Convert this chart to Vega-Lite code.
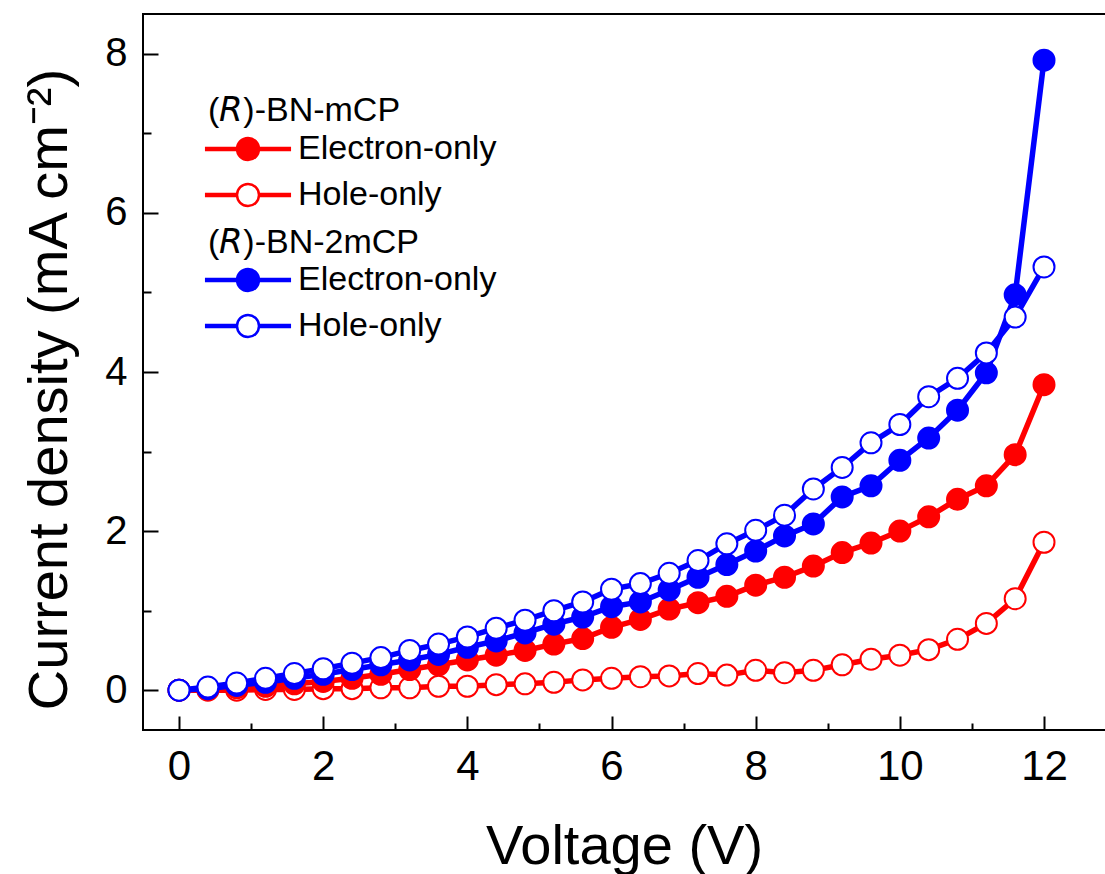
{
  "$schema": "https://vega.github.io/schema/vega-lite/v6.json",
  "width": 963,
  "height": 716,
  "autosize": {"type": "none"},
  "padding": {"left": 143, "top": 14, "right": 0, "bottom": 144},
  "background": "white",
  "config": {
    "view": {"stroke": "black", "strokeWidth": 2},
    "font": "Liberation Sans",
    "axis": {"domain": false, "tickColor": "black", "tickWidth": 2, "labelColor": "black", "titleColor": "black", "labelFont": "Liberation Sans", "titleFont": "Liberation Sans", "titleFontWeight": "normal", "grid": false},
    "legend": {"titleFont": "Liberation Sans", "labelFont": "Liberation Sans", "titleFontWeight": "normal", "titleColor": "black", "labelColor": "black"}
  },
  "data": {"values": [
    {"sample":"mCP","type":"Hole-only","voltage":0,"current":0},
    {"sample":"mCP","type":"Hole-only","voltage":0.4,"current":0},
    {"sample":"mCP","type":"Hole-only","voltage":0.8,"current":0},
    {"sample":"mCP","type":"Hole-only","voltage":1.2,"current":0.01},
    {"sample":"mCP","type":"Hole-only","voltage":1.6,"current":0.01},
    {"sample":"mCP","type":"Hole-only","voltage":2.0,"current":0.02},
    {"sample":"mCP","type":"Hole-only","voltage":2.4,"current":0.02},
    {"sample":"mCP","type":"Hole-only","voltage":2.8,"current":0.03},
    {"sample":"mCP","type":"Hole-only","voltage":3.2,"current":0.03},
    {"sample":"mCP","type":"Hole-only","voltage":3.6,"current":0.05},
    {"sample":"mCP","type":"Hole-only","voltage":4.0,"current":0.05},
    {"sample":"mCP","type":"Hole-only","voltage":4.4,"current":0.07},
    {"sample":"mCP","type":"Hole-only","voltage":4.8,"current":0.08},
    {"sample":"mCP","type":"Hole-only","voltage":5.2,"current":0.1},
    {"sample":"mCP","type":"Hole-only","voltage":5.6,"current":0.13},
    {"sample":"mCP","type":"Hole-only","voltage":6.0,"current":0.15},
    {"sample":"mCP","type":"Hole-only","voltage":6.4,"current":0.17},
    {"sample":"mCP","type":"Hole-only","voltage":6.8,"current":0.18},
    {"sample":"mCP","type":"Hole-only","voltage":7.2,"current":0.21},
    {"sample":"mCP","type":"Hole-only","voltage":7.6,"current":0.19},
    {"sample":"mCP","type":"Hole-only","voltage":8.0,"current":0.25},
    {"sample":"mCP","type":"Hole-only","voltage":8.4,"current":0.22},
    {"sample":"mCP","type":"Hole-only","voltage":8.8,"current":0.25},
    {"sample":"mCP","type":"Hole-only","voltage":9.2,"current":0.32},
    {"sample":"mCP","type":"Hole-only","voltage":9.6,"current":0.39},
    {"sample":"mCP","type":"Hole-only","voltage":10.0,"current":0.44},
    {"sample":"mCP","type":"Hole-only","voltage":10.4,"current":0.51},
    {"sample":"mCP","type":"Hole-only","voltage":10.8,"current":0.64},
    {"sample":"mCP","type":"Hole-only","voltage":11.2,"current":0.84},
    {"sample":"mCP","type":"Hole-only","voltage":11.6,"current":1.15},
    {"sample":"mCP","type":"Hole-only","voltage":12.0,"current":1.86},
    {"sample":"mCP","type":"Electron-only","voltage":0,"current":0},
    {"sample":"mCP","type":"Electron-only","voltage":0.4,"current":0.01},
    {"sample":"mCP","type":"Electron-only","voltage":0.8,"current":0.03},
    {"sample":"mCP","type":"Electron-only","voltage":1.2,"current":0.05},
    {"sample":"mCP","type":"Electron-only","voltage":1.6,"current":0.08},
    {"sample":"mCP","type":"Electron-only","voltage":2.0,"current":0.11},
    {"sample":"mCP","type":"Electron-only","voltage":2.4,"current":0.15},
    {"sample":"mCP","type":"Electron-only","voltage":2.8,"current":0.2},
    {"sample":"mCP","type":"Electron-only","voltage":3.2,"current":0.26},
    {"sample":"mCP","type":"Electron-only","voltage":3.6,"current":0.32},
    {"sample":"mCP","type":"Electron-only","voltage":4.0,"current":0.38},
    {"sample":"mCP","type":"Electron-only","voltage":4.4,"current":0.44},
    {"sample":"mCP","type":"Electron-only","voltage":4.8,"current":0.5},
    {"sample":"mCP","type":"Electron-only","voltage":5.2,"current":0.58},
    {"sample":"mCP","type":"Electron-only","voltage":5.6,"current":0.65},
    {"sample":"mCP","type":"Electron-only","voltage":6.0,"current":0.79},
    {"sample":"mCP","type":"Electron-only","voltage":6.4,"current":0.89},
    {"sample":"mCP","type":"Electron-only","voltage":6.8,"current":1.02},
    {"sample":"mCP","type":"Electron-only","voltage":7.2,"current":1.1},
    {"sample":"mCP","type":"Electron-only","voltage":7.6,"current":1.18},
    {"sample":"mCP","type":"Electron-only","voltage":8.0,"current":1.32},
    {"sample":"mCP","type":"Electron-only","voltage":8.4,"current":1.42},
    {"sample":"mCP","type":"Electron-only","voltage":8.8,"current":1.56},
    {"sample":"mCP","type":"Electron-only","voltage":9.2,"current":1.73},
    {"sample":"mCP","type":"Electron-only","voltage":9.6,"current":1.85},
    {"sample":"mCP","type":"Electron-only","voltage":10.0,"current":2.0},
    {"sample":"mCP","type":"Electron-only","voltage":10.4,"current":2.18},
    {"sample":"mCP","type":"Electron-only","voltage":10.8,"current":2.4},
    {"sample":"mCP","type":"Electron-only","voltage":11.2,"current":2.57},
    {"sample":"mCP","type":"Electron-only","voltage":11.6,"current":2.96},
    {"sample":"mCP","type":"Electron-only","voltage":12.0,"current":3.84},
    {"sample":"2mCP","type":"Electron-only","voltage":0,"current":0},
    {"sample":"2mCP","type":"Electron-only","voltage":0.4,"current":0.02},
    {"sample":"2mCP","type":"Electron-only","voltage":0.8,"current":0.06},
    {"sample":"2mCP","type":"Electron-only","voltage":1.2,"current":0.1},
    {"sample":"2mCP","type":"Electron-only","voltage":1.6,"current":0.15},
    {"sample":"2mCP","type":"Electron-only","voltage":2.0,"current":0.2},
    {"sample":"2mCP","type":"Electron-only","voltage":2.4,"current":0.26},
    {"sample":"2mCP","type":"Electron-only","voltage":2.8,"current":0.32},
    {"sample":"2mCP","type":"Electron-only","voltage":3.2,"current":0.38},
    {"sample":"2mCP","type":"Electron-only","voltage":3.6,"current":0.45},
    {"sample":"2mCP","type":"Electron-only","voltage":4.0,"current":0.54},
    {"sample":"2mCP","type":"Electron-only","voltage":4.4,"current":0.62},
    {"sample":"2mCP","type":"Electron-only","voltage":4.8,"current":0.72},
    {"sample":"2mCP","type":"Electron-only","voltage":5.2,"current":0.83},
    {"sample":"2mCP","type":"Electron-only","voltage":5.6,"current":0.92},
    {"sample":"2mCP","type":"Electron-only","voltage":6.0,"current":1.05},
    {"sample":"2mCP","type":"Electron-only","voltage":6.4,"current":1.11},
    {"sample":"2mCP","type":"Electron-only","voltage":6.8,"current":1.26},
    {"sample":"2mCP","type":"Electron-only","voltage":7.2,"current":1.42},
    {"sample":"2mCP","type":"Electron-only","voltage":7.6,"current":1.58},
    {"sample":"2mCP","type":"Electron-only","voltage":8.0,"current":1.75},
    {"sample":"2mCP","type":"Electron-only","voltage":8.4,"current":1.94},
    {"sample":"2mCP","type":"Electron-only","voltage":8.8,"current":2.09},
    {"sample":"2mCP","type":"Electron-only","voltage":9.2,"current":2.43},
    {"sample":"2mCP","type":"Electron-only","voltage":9.6,"current":2.57},
    {"sample":"2mCP","type":"Electron-only","voltage":10.0,"current":2.89},
    {"sample":"2mCP","type":"Electron-only","voltage":10.4,"current":3.17},
    {"sample":"2mCP","type":"Electron-only","voltage":10.8,"current":3.52},
    {"sample":"2mCP","type":"Electron-only","voltage":11.2,"current":3.99},
    {"sample":"2mCP","type":"Electron-only","voltage":11.6,"current":4.97},
    {"sample":"2mCP","type":"Electron-only","voltage":12.0,"current":7.92},
    {"sample":"2mCP","type":"Hole-only","voltage":0,"current":0},
    {"sample":"2mCP","type":"Hole-only","voltage":0.4,"current":0.04},
    {"sample":"2mCP","type":"Hole-only","voltage":0.8,"current":0.09},
    {"sample":"2mCP","type":"Hole-only","voltage":1.2,"current":0.15},
    {"sample":"2mCP","type":"Hole-only","voltage":1.6,"current":0.21},
    {"sample":"2mCP","type":"Hole-only","voltage":2.0,"current":0.27},
    {"sample":"2mCP","type":"Hole-only","voltage":2.4,"current":0.34},
    {"sample":"2mCP","type":"Hole-only","voltage":2.8,"current":0.41},
    {"sample":"2mCP","type":"Hole-only","voltage":3.2,"current":0.5},
    {"sample":"2mCP","type":"Hole-only","voltage":3.6,"current":0.58},
    {"sample":"2mCP","type":"Hole-only","voltage":4.0,"current":0.67},
    {"sample":"2mCP","type":"Hole-only","voltage":4.4,"current":0.78},
    {"sample":"2mCP","type":"Hole-only","voltage":4.8,"current":0.88},
    {"sample":"2mCP","type":"Hole-only","voltage":5.2,"current":1.0},
    {"sample":"2mCP","type":"Hole-only","voltage":5.6,"current":1.11},
    {"sample":"2mCP","type":"Hole-only","voltage":6.0,"current":1.27},
    {"sample":"2mCP","type":"Hole-only","voltage":6.4,"current":1.34},
    {"sample":"2mCP","type":"Hole-only","voltage":6.8,"current":1.47},
    {"sample":"2mCP","type":"Hole-only","voltage":7.2,"current":1.63},
    {"sample":"2mCP","type":"Hole-only","voltage":7.6,"current":1.84},
    {"sample":"2mCP","type":"Hole-only","voltage":8.0,"current":2.01},
    {"sample":"2mCP","type":"Hole-only","voltage":8.4,"current":2.2},
    {"sample":"2mCP","type":"Hole-only","voltage":8.8,"current":2.53},
    {"sample":"2mCP","type":"Hole-only","voltage":9.2,"current":2.8},
    {"sample":"2mCP","type":"Hole-only","voltage":9.6,"current":3.11},
    {"sample":"2mCP","type":"Hole-only","voltage":10.0,"current":3.34},
    {"sample":"2mCP","type":"Hole-only","voltage":10.4,"current":3.69},
    {"sample":"2mCP","type":"Hole-only","voltage":10.8,"current":3.92},
    {"sample":"2mCP","type":"Hole-only","voltage":11.2,"current":4.24},
    {"sample":"2mCP","type":"Hole-only","voltage":11.6,"current":4.69},
    {"sample":"2mCP","type":"Hole-only","voltage":12.0,"current":5.32}
  ]},
  "layer": [
    {
      "transform": [{"filter": "datum.sample === 'mCP'"}],
      "encoding": {
        "x": {"field": "voltage", "type": "quantitative",
          "scale": {"domain": [-0.5, 12.86], "nice": false, "zero": false},
          "axis": {"orient": "bottom", "values": [0,2,4,6,8,10,12], "offset": -14, "tickSize": 14,
            "labelFontSize": 42, "labelPadding": 16, "labelOverlap": false, "labelFlush": false,
            "title": "Voltage (V)", "titleFontSize": 56, "titleX": 481, "titleY": 147, "titleBaseline": "alphabetic"}},
        "y": {"field": "current", "type": "quantitative",
          "scale": {"domain": [-0.5, 8.5], "nice": false, "zero": false},
          "axis": {"orient": "left", "values": [0,2,4,6,8], "offset": -15, "tickSize": 15,
            "labelFontSize": 40, "labelPadding": 16, "labelOverlap": false, "labelFlush": false,
            "title": "Current density (mA cm⁻²)", "titleFontSize": 56, "titleX": -92, "titleY": 375, "titleBaseline": "alphabetic", "titleAngle": -90}}
      },
      "layer": [
        {"mark": {"type": "line", "color": "#ff0000", "strokeWidth": 5.5}, "encoding": {"detail": {"field": "type"}}},
        {"mark": {"type": "point", "shape": "circle", "size": 441, "stroke": "#ff0000", "strokeWidth": 2, "opacity": 1},
          "encoding": {"fill": {"field": "type", "type": "nominal", "sort": null,
            "scale": {"domain": ["Electron-only", "Hole-only"], "range": ["#ff0000", "#ffffff"]},
            "legend": {"title": "(\uD835\uDE19)-BN-mCP", "orient": "none", "legendX": 65, "legendY": 80, "padding": 0,
              "titleFontSize": 34, "labelFontSize": 34, "titlePadding": 4, "rowPadding": 12, "labelLimit": 0, "titleLimit": 0,
              "symbolType": "M-3.8,-0.1L-1,-0.1L-1,0.1L-3.8,0.1ZM1,-0.1L3.8,-0.1L3.8,0.1L1,0.1ZM-1,0A1,1,0,1,1,1,0A1,1,0,1,1,-1,0Z",
              "symbolSize": 484, "symbolStrokeWidth": 2.5, "symbolOffset": 23, "labelOffset": 33}}}}
      ]
    },
    {
      "transform": [{"filter": "datum.sample === '2mCP'"}],
      "encoding": {
        "x": {"field": "voltage", "type": "quantitative",
          "scale": {"domain": [-0.5, 12.86], "nice": false, "zero": false},
          "axis": {"orient": "bottom", "values": [1,3,5,7,9,11], "offset": -7, "tickSize": 7, "labels": false, "title": null}},
        "y": {"field": "current", "type": "quantitative",
          "scale": {"domain": [-0.5, 8.5], "nice": false, "zero": false},
          "axis": {"orient": "left", "values": [1,3,5,7], "offset": -8, "tickSize": 8, "labels": false, "title": null}}
      },
      "layer": [
        {"mark": {"type": "line", "color": "#0000ff", "strokeWidth": 5.5}, "encoding": {"detail": {"field": "type"}}},
        {"mark": {"type": "point", "shape": "circle", "size": 441, "stroke": "#0000ff", "strokeWidth": 2, "opacity": 1},
          "encoding": {"fill": {"field": "type", "type": "nominal", "sort": null,
            "scale": {"domain": ["Electron-only", "Hole-only"], "range": ["#0000ff", "#ffffff"]},
            "legend": {"title": "(\uD835\uDE19)-BN-2mCP", "orient": "none", "legendX": 65, "legendY": 212, "padding": 0,
              "titleFontSize": 34, "labelFontSize": 34, "titlePadding": 3, "rowPadding": 12, "labelLimit": 0, "titleLimit": 0,
              "symbolType": "M-3.8,-0.1L-1,-0.1L-1,0.1L-3.8,0.1ZM1,-0.1L3.8,-0.1L3.8,0.1L1,0.1ZM-1,0A1,1,0,1,1,1,0A1,1,0,1,1,-1,0Z",
              "symbolSize": 484, "symbolStrokeWidth": 2.5, "symbolOffset": 23, "labelOffset": 33}}}}
      ]
    }
  ],
  "resolve": {"scale": {"fill": "independent"}, "legend": {"fill": "independent"}, "axis": {"x": "independent", "y": "independent"}}
}
